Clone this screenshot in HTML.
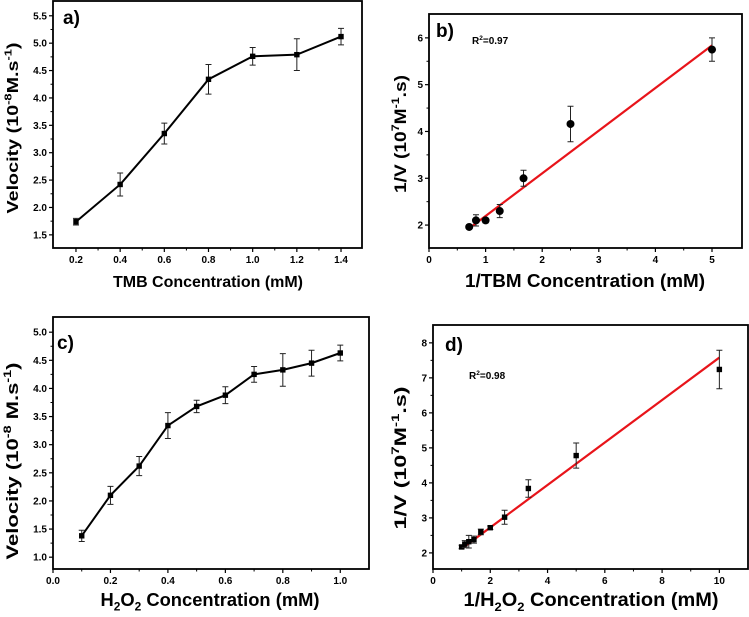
<!DOCTYPE html>
<html><head><meta charset="utf-8"><style>
body{margin:0;background:#fff;}
svg{display:block;font-family:"Liberation Sans",sans-serif;font-weight:bold;}
</style></head><body>
<svg id="fig" width="749" height="617" viewBox="0 0 749 617"></svg>
<script>
const aX=[0.2,0.4,0.6,0.8,1.0,1.2,1.4];
const aY=[1.74,2.42,3.35,4.34,4.76,4.79,5.12];
const aE=[0.06,0.21,0.19,0.27,0.16,0.29,0.15];
const aXT=[0.2,0.4,0.6,0.8,1.0,1.2,1.4];
const aYT=[1.5,2.0,2.5,3.0,3.5,4.0,4.5,5.0,5.5];
const bX=[0.71,0.83,1.0,1.25,1.67,2.5,5.0];
const bY=[1.96,2.1,2.1,2.3,3.0,4.16,5.75];
const bE=[0.02,0.12,0.05,0.14,0.17,0.38,0.25];
const bFit=[[0.71,1.93],[5.0,5.84]];
const bXT=[0,1,2,3,4,5];
const bYT=[2,3,4,5,6];
const cX=[0.1,0.2,0.3,0.4,0.5,0.6,0.7,0.8,0.9,1.0];
const cY=[1.38,2.1,2.62,3.34,3.68,3.88,4.25,4.33,4.45,4.63];
const cE=[0.1,0.16,0.17,0.23,0.11,0.15,0.14,0.29,0.23,0.14];
const cXT=[0.0,0.2,0.4,0.6,0.8,1.0];
const cYT=[1.0,1.5,2.0,2.5,3.0,3.5,4.0,4.5,5.0];
const dX=[1,1.11,1.25,1.43,1.67,2,2.5,3.33,5,10];
const dY=[2.17,2.25,2.32,2.38,2.6,2.72,3.02,3.84,4.78,7.24];
const dE=[0.05,0.1,0.18,0.1,0.08,0.05,0.2,0.25,0.36,0.55];
const dFit=[[1,2.12],[10,7.58]];
const dXT=[0,2,4,6,8,10];
const dYT=[2,3,4,5,6,7,8];

const NS="http://www.w3.org/2000/svg";
const svg=document.getElementById('fig');
function mk(tag,attrs,parent,txt){const e=document.createElementNS(NS,tag);for(const k in attrs)e.setAttribute(k,attrs[k]);if(txt!==undefined)e.textContent=txt;(parent||svg).appendChild(e);return e;}

function panel(p){
  const g=mk('g',{});
  
  
  const sx=v=>p.L+(v-p.x0)/(p.x1-p.x0)*(p.R-p.L);
  const sy=v=>p.B-(v-p.y0)/(p.y1-p.y0)*(p.B-p.T);
  const fr=mk('rect',{x:p.L,y:p.T,width:p.R-p.L,height:p.B-p.T,fill:'none',stroke:'#000','stroke-width':1.8},g);
  
  
  p.xt.forEach((t,i)=>{
    const x=sx(t);
    mk('line',{x1:x,x2:x,y1:p.B,y2:p.B+4,stroke:'#000','stroke-width':1.2},g);
    const lb=mk('text',{x:x,y:p.B+15,'font-size':10,'text-anchor':'middle'},g,p.xf(t));
    
    
    if(i<p.xt.length-1){const m=sx((t+p.xt[i+1])/2);mk('line',{x1:m,x2:m,y1:p.B,y2:p.B+2.5,stroke:'#000','stroke-width':1},g);}
  });
  p.yt.forEach((t,i)=>{
    const y=sy(t);
    mk('line',{x1:p.L-4,x2:p.L,y1:y,y2:y,stroke:'#000','stroke-width':1.2},g);
    const lb=mk('text',{x:p.L-6,y:y+3.5,'font-size':10,'text-anchor':'end'},g,p.yf(t));
    
    
    if(i<p.yt.length-1){const m=sy((t+p.yt[i+1])/2);mk('line',{x1:p.L-2.5,x2:p.L,y1:m,y2:m,stroke:'#000','stroke-width':1},g);}
  });
  if(p.line){
    const ln=mk('polyline',{points:p.xs.map((v,i)=>sx(v)+','+sy(p.ys[i])).join(' '),fill:'none',stroke:'#000','stroke-width':2},g);
    
    
  }
  if(p.fit){
    const f=mk('line',{x1:sx(p.fit[0][0]),y1:sy(p.fit[0][1]),x2:sx(p.fit[1][0]),y2:sy(p.fit[1][1]),stroke:'#e8141a','stroke-width':2.2},g);
    
    
  }
  p.xs.forEach((v,i)=>{
    const x=sx(v),y1=sy(p.ys[i]-p.es[i]),y2=sy(p.ys[i]+p.es[i]);
    const eb=mk('path',{d:`M${x},${y1}V${y2}M${x-3},${y1}H${x+3}M${x-3},${y2}H${x+3}`,stroke:'#222','stroke-width':1,fill:'none'},g);
    
    
    let m;
    if(p.circle) m=mk('circle',{cx:x,cy:sy(p.ys[i]),r:4,fill:'#000'},g);
    else m=mk('rect',{x:x-2.7,y:sy(p.ys[i])-2.7,width:5.4,height:5.4,fill:'#000'},g);
    
    
  });
  const tl=mk('text',{x:p.tag[0],y:p.tag[1],'font-size':19},g,p.id+')');
  
  
  if(p.r2){
    const r=mk('text',{x:p.r2[0],y:p.r2[1],'font-size':10},g);
    
    
    r.innerHTML='R<tspan dy="-4" font-size="6.5">2</tspan><tspan dy="4">='+p.r2[2]+'</tspan>';
  }
  const xl=mk('text',{x:p.xl[0]-p.xl[4]/2,y:p.xl[1],'font-size':p.xl[3],textLength:p.xl[4],lengthAdjust:'spacingAndGlyphs'},g);
  xl.innerHTML=p.xl[2];
  
  
  const yl=mk('text',{x:-p.yl[4]/2,y:0,'font-size':p.yl[3],textLength:p.yl[4],lengthAdjust:'spacingAndGlyphs',transform:`translate(${p.yl[0]},${p.yl[1]}) rotate(-90)`},g);
  yl.innerHTML=p.yl[2];
  
  
}
const f1=v=>v.toFixed(1), f0=v=>String(v);
const sup=(t,fs)=>`<tspan dy="-${fs*0.4}" font-size="${fs*0.65}">${t}</tspan>`;
const unsup=(t,fs)=>`<tspan dy="${fs*0.4}">${t}</tspan>`;
const sub=(t,fs)=>`<tspan dy="${fs*0.25}" font-size="${fs*0.65}">${t}</tspan>`;
const unsub=(t,fs)=>`<tspan dy="-${fs*0.25}">${t}</tspan>`;
panel({id:'a',L:53,R:362,T:1,B:248,x0:0.096,x1:1.495,y0:1.26,y1:5.77,xs:aX,ys:aY,es:aE,xt:aXT,yt:aYT,xf:f1,yf:f1,line:true,
  tag:[63,24],xl:[208,287,'TMB Concentration (mM)',16,190],yl:[18,128,'Velocity (10'+sup('-8',16)+unsup('M.s',16)+sup('-1',16)+unsup(')',16),16,171]});
panel({id:'b',L:429,R:742,T:14,B:248,x0:0,x1:5.53,y0:1.51,y1:6.51,xs:bX,ys:bY,es:bE,xt:bXT,yt:bYT,xf:f0,yf:f0,circle:true,fit:bFit,
  tag:[436,37],r2:[472,44,'0.97'],xl:[585,287,'1/TBM Concentration (mM)',18,240],yl:[406,134,'1/V (10'+sup('7',17)+unsup('M',17)+sup('-1',17)+unsup('.s)',17),17,118]});
panel({id:'c',L:53,R:369,T:317,B:569,x0:0,x1:1.1,y0:0.79,y1:5.27,xs:cX,ys:cY,es:cE,xt:cXT,yt:cYT,xf:f1,yf:f1,line:true,
  tag:[57,349],xl:[210,606,'H'+sub('2',18)+unsub('O',18)+sub('2',18)+unsub(' Concentration (mM)',18),18,219],yl:[18,461,'Velocity (10'+sup('-8',17)+unsup(' M.s',17)+sup('-1',17)+unsup(')',17),17,197]});
panel({id:'d',L:433,R:748,T:325,B:569,x0:0,x1:11.0,y0:1.54,y1:8.51,xs:dX,ys:dY,es:dE,xt:dXT,yt:dYT,xf:f0,yf:f0,fit:dFit,
  tag:[445,351],r2:[469,379,'0.98'],xl:[591,606,'1/H'+sub('2',19)+unsub('O',19)+sub('2',19)+unsub(' Concentration (mM)',19),19,255],yl:[406,458,'1/V (10'+sup('7',17)+unsup('M',17)+sup('-1',17)+unsup('.s)',17),17,143]});
</script>
</body></html>
